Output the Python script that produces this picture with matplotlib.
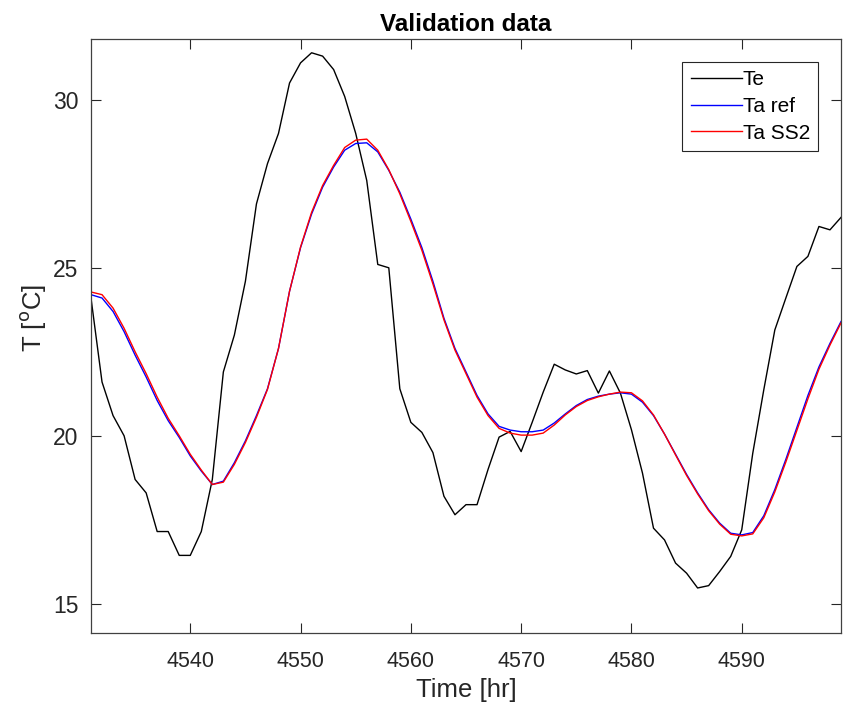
import numpy as np
from matplotlib import pyplot as plt

plt.rcParams['font.family'] = ['Liberation Sans', 'DejaVu Sans']

# hourly samples
time = np.arange(4531, 4600)

te = [24.1, 21.6, 20.6, 20.0, 18.7, 18.3, 17.15, 17.15, 16.44, 16.44,
      17.15, 18.7, 21.9, 23.0, 24.6, 26.9, 28.1, 29.0, 30.5, 31.1,
      31.4, 31.3, 30.9, 30.1, 29.0, 27.6, 25.1, 25.0, 21.4, 20.4,
      20.1, 19.5, 18.2, 17.65, 17.95, 17.95, 19.0, 19.96, 20.13, 19.53,
      20.4, 21.3, 22.13, 21.96, 21.84, 21.94, 21.27, 21.93, 21.27, 20.18,
      18.89, 17.25, 16.9, 16.21, 15.91, 15.47, 15.54, 15.96, 16.41, 17.2,
      19.48, 21.37, 23.15, 24.1, 25.04, 25.34, 26.23, 26.13, 26.5]

ta_ref = [24.2, 24.1, 23.7, 23.1, 22.4, 21.75, 21.05, 20.45, 19.95, 19.4,
          18.95, 18.55, 18.65, 19.2, 19.85, 20.6, 21.4, 22.6, 24.3, 25.6,
          26.6, 27.4, 28.0, 28.5, 28.7, 28.72, 28.45, 27.9, 27.25, 26.45,
          25.6, 24.6, 23.5, 22.6, 21.9, 21.2, 20.65, 20.28, 20.17, 20.12,
          20.12, 20.17, 20.38, 20.65, 20.9, 21.08, 21.18, 21.24, 21.28, 21.24,
          21.0, 20.6, 20.05, 19.45, 18.85, 18.3, 17.8, 17.4, 17.1, 17.05,
          17.12, 17.62, 18.4, 19.3, 20.25, 21.2, 22.05, 22.75, 23.4]

ta_ss2 = [24.28, 24.2, 23.8, 23.2, 22.5, 21.85, 21.15, 20.52, 20.0, 19.45,
          18.98, 18.55, 18.62, 19.15, 19.8, 20.55, 21.38, 22.6, 24.3, 25.62,
          26.65, 27.45, 28.05, 28.58, 28.8, 28.83, 28.5, 27.92, 27.2, 26.38,
          25.52, 24.52, 23.45, 22.55, 21.85, 21.15, 20.6, 20.22, 20.08, 20.02,
          20.02, 20.08, 20.32, 20.62, 20.87, 21.05, 21.16, 21.24, 21.3, 21.28,
          21.04, 20.62, 20.05, 19.43, 18.82, 18.27, 17.77, 17.37, 17.07, 17.02,
          17.08, 17.56, 18.33, 19.22, 20.16, 21.1, 21.98, 22.7, 23.36]

fig = plt.figure(figsize=(8.45, 7.07), dpi=100)
ax = fig.add_axes([91 / 845, 74 / 707, 750 / 845, 594 / 707])

ax.plot(time, te, color='black', lw=1.0, label='Te')
ax.plot(time, ta_ref, color='#0000ff', lw=1.0, label='Ta ref')
ax.plot(time, ta_ss2, color='#ff0000', lw=1.0, label='Ta SS2')

ax.set_xlim(time[0], time[-1])
ax.set_ylim(14.13, 31.81)
ax.set_xticks([4540, 4550, 4560, 4570, 4580, 4590])
ax.set_yticks([15, 20, 25, 30])

gray = '#262626'
ax.tick_params(direction='in', length=7, width=0.8, top=True, right=True,
               colors=gray, labelcolor=gray)
ax.tick_params(axis='x', labelsize=15.5, pad=13)
ax.tick_params(axis='y', labelsize=16.5, pad=9)
for s in ax.spines.values():
    s.set_color('#404040')
    s.set_linewidth(0.9)

ax.set_xlabel('Time [hr]', fontsize=18.5, color=gray, labelpad=4)
ax.set_ylabel('T [$^{\\mathrm{o}}$C]', fontsize=18.5, color=gray)
ax.yaxis.set_label_coords(-0.058, 0.53)
ax.set_title('Validation data', fontsize=17.5, fontweight='bold', pad=6)

leg = ax.legend(loc='upper right', bbox_to_anchor=(0.97, 0.962), fontsize=15,
                fancybox=False, edgecolor='#262626', framealpha=1,
                handlelength=2.45, handletextpad=0.05, borderpad=0.4,
                labelspacing=0.38, borderaxespad=0)
leg.get_frame().set_linewidth(0.8)

fig.savefig('out.png', dpi=100)
